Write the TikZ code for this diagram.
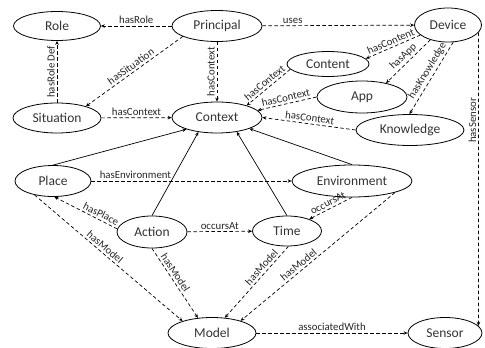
\documentclass[tikz,border=0pt]{standalone}
\usepackage{fontspec}
\setmainfont{Carlito}
\usetikzlibrary{shapes.geometric,arrows.meta}
\begin{document}
\begin{tikzpicture}[x=1pt,y=-1pt,
  ent/.style={ellipse,draw,line width=0.8pt,inner sep=0pt,font=\fontsize{13.5}{14}\selectfont,text=black!80},
  lbl/.style={font=\fontsize{10.8}{11}\selectfont,inner sep=2pt,text=black!85},
  sol/.style={-{Stealth[length=4pt,width=3.5pt]},line width=0.7pt},
  dsh/.style={sol,dash pattern=on 3.5pt off 2.5pt}
]
\useasboundingbox (0,0) rectangle (485,348);
% entities
\node[ent,minimum width=87pt,minimum height=29pt] (role) at (57,26) {Role};
\node[ent,minimum width=90pt,minimum height=31pt] (prin) at (217,26) {Principal};
\node[ent,minimum width=67pt,minimum height=34pt] (dev) at (448,25) {Device};
\node[ent,minimum width=82pt,minimum height=25pt] (cont) at (328,64) {Content};
\node[ent,minimum width=90pt,minimum height=32pt] (app) at (362,97) {App};
\node[ent,minimum width=108pt,minimum height=31pt] (know) at (410,130) {Knowledge};
\node[ent,minimum width=90pt,minimum height=31pt] (ctx) at (217,117.5) {Context};
\node[ent,minimum width=88pt,minimum height=30pt] (sit) at (57,118) {Situation};
\node[ent,minimum width=76pt,minimum height=31pt] (place) at (53,181) {Place};
\node[ent,minimum width=120pt,minimum height=32pt] (env) at (352,181) {Environment};
\node[ent,minimum width=70pt,minimum height=32pt] (act) at (152,232) {Action};
\node[ent,minimum width=69pt,minimum height=30pt] (time) at (287,231) {Time};
\node[ent,minimum width=88pt,minimum height=31pt] (model) at (212,333) {Model};
\node[ent,minimum width=74pt,minimum height=31pt] (sen) at (445,333) {Sensor};
% relations
\draw[dsh] (prin) -- node[lbl,above,pos=0.5]{hasRole} (role);
\draw[dsh] (prin) -- node[lbl,above,pos=0.2]{uses} (dev);
\draw[dsh] (prin.197) -- node[lbl,above,sloped]{hasSituation} (sit.22);
\draw[dsh] (prin) -- node[lbl,rotate=90,anchor=south]{hasContext} (ctx);
\draw[dsh] (sit) -- node[lbl,rotate=90,anchor=south]{hasRole Def} (role);
\draw[dsh] (sit) -- node[lbl,above]{hasContext} (ctx);
\draw[dsh] (dev.200) -- node[lbl,above,sloped]{hasContent} (cont.8);
\draw[dsh] (dev.220) -- node[lbl,above,sloped]{hasApp} (app.30);
\draw[dsh] (dev.287) -- node[lbl,above,sloped,pos=0.45]{hasKnowledge} (know.92);
\draw[dsh] (dev.346) -- node[lbl,rotate=90,anchor=south,pos=0.3]{hasSensor} (sen.12);
\draw[dsh] (cont.188) -- node[lbl,above,sloped]{hasContext} (ctx.22);
\draw[dsh] (app.west) -- node[lbl,above,sloped]{hasContext} (ctx.10);
\draw[dsh] (know.west) -- node[lbl,above,sloped]{hasContext} (ctx.east);
\draw[sol] (place.north) -- (ctx.201);
\draw[sol] (act.north) -- (ctx.218);
\draw[sol] (time.north) -- (ctx.324);
\draw[sol] (env.north) -- (ctx.341);
\draw[dsh] (place) -- node[lbl,above,pos=0.22]{hasEnvironment} (env);
\draw[dsh] (act.175) -- node[lbl,above,sloped,pos=0.3]{hasPlace} (place.275);
\draw[dsh] (act) -- node[lbl,above]{occursAt} (time);
\draw[dsh] (env.south) -- node[lbl,above,sloped]{occursAt} (time.28);
\draw[dsh] (place.217) -- node[lbl,above,sloped,pos=0.45]{hasModel} (model.158);
\draw[dsh] (act.south) -- node[lbl,above,sloped,pos=0.4]{hasModel} (model.133);
\draw[dsh] (time.275) -- node[lbl,above,sloped,pos=0.35]{hasModel} (model.50);
\draw[dsh] (env.345) -- node[lbl,above,sloped,pos=0.6]{hasModel} (model.23);
\draw[dsh] (model) -- node[lbl,above]{associatedWith} (sen);
\end{tikzpicture}
\end{document}
